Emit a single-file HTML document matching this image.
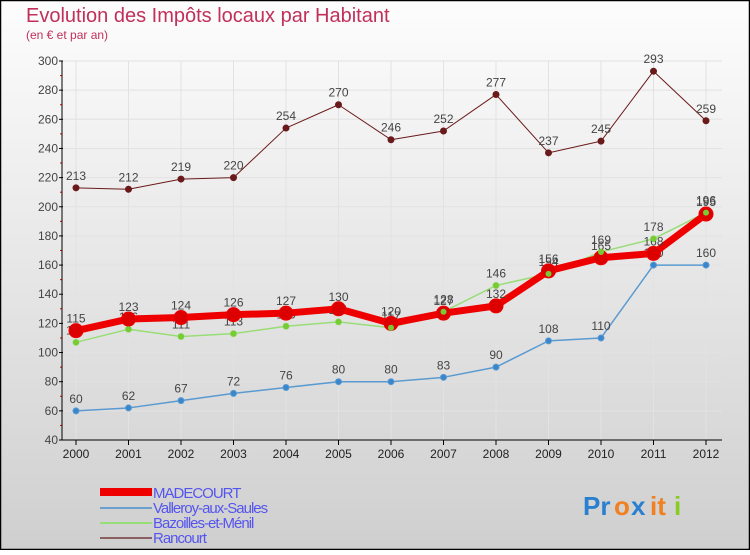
<!DOCTYPE html>
<html><head><meta charset="utf-8"><style>
body{margin:0;}
#c{width:750px;height:550px;position:relative;font-family:"Liberation Sans",sans-serif;}
</style></head><body>
<div id="c">
<svg width="750" height="550" xmlns="http://www.w3.org/2000/svg" id="svg">
<defs><linearGradient id="bg" x1="0" y1="0" x2="0" y2="1"><stop offset="0" stop-color="#fdfdfd"/><stop offset="1" stop-color="#cfcfcf"/></linearGradient></defs>
<rect x="0.5" y="0.5" width="749" height="549" fill="url(#bg)" stroke="#000" stroke-width="1.5"/>
<text x="26" y="22" font-size="20" fill="#c0305a">Evolution des Impôts locaux par Habitant</text>
<text x="26" y="39" font-size="12" fill="#c0305a">(en € et par an)</text>
<g id="grid"></g><g id="axes"></g><g id="series"></g>
<g font-size="15" fill="#5555ee">
<rect x="100" y="488" width="52" height="8" fill="#e00"/>
<text x="153" y="498" letter-spacing="-1">MADECOURT</text>
<line x1="100" y1="508" x2="152" y2="508" stroke="#6a9fd0" stroke-width="2"/>
<text x="153" y="513" letter-spacing="-1">Valleroy-aux-Saules</text>
<line x1="100" y1="523" x2="152" y2="523" stroke="#99dd77" stroke-width="2"/>
<text x="153" y="528" letter-spacing="-1">Bazoilles-et-Ménil</text>
<line x1="100" y1="538" x2="152" y2="538" stroke="#8a6060" stroke-width="2"/>
<text x="153" y="543" letter-spacing="-1">Rancourt</text>
</g>
<g font-size="26" font-weight="bold">
<text x="583" y="515" fill="#2a7fd0">Pr</text><text x="614" y="515" fill="#f08020">o</text><text x="631" y="515" fill="#2a7fd0">x</text><text x="650" y="515" fill="#f08020">it</text><text x="674" y="515" fill="#88cc22">i</text>
</g>
</svg></div>
<script>
const years=["2000","2001","2002","2003","2004","2005","2006","2007","2008","2009","2010","2011","2012"];
const madecourt=[115,123,124,126,127,130,120,127,132,156,165,168,195];
const valleroy=[60,62,67,72,76,80,80,83,90,108,110,160,160];
const bazoilles=[107,116,111,113,118,121,117,128,146,154,169,178,196];
const rancourt=[213,212,219,220,254,270,246,252,277,237,245,293,259];
const yTicks=[40,60,80,100,120,140,160,180,200,220,240,260,280,300];
const NS="http://www.w3.org/2000/svg";
const x=i=>76+i*52.5;
const y=v=>440-(v-40)*(379/260);
function mk(tag,attrs,parent){const e=document.createElementNS(NS,tag);for(const k in attrs)e.setAttribute(k,attrs[k]);parent.appendChild(e);return e;}
const grid=document.getElementById('grid'),axes=document.getElementById('axes'),ser=document.getElementById('series');
yTicks.forEach(t=>{
 const l=mk('line',{x1:62,x2:722,y1:y(t),y2:y(t),stroke:'#e2e2e2','stroke-width':1},grid);
 
 
 const tx=mk('text',{x:58,y:y(t)+4,'font-size':12,fill:'#444','text-anchor':'end'},axes);tx.textContent=t;
 
 
 mk('line',{x1:59,x2:63,y1:y(t),y2:y(t),stroke:'#000'},axes);
 if(t<300) mk('line',{x1:60,x2:62,y1:y(t+10),y2:y(t+10),stroke:'#e00'},axes);
});
years.forEach((yr,i)=>{
 mk('line',{x1:x(i),x2:x(i),y1:61,y2:440,stroke:'#e2e2e2'},grid);
 mk('line',{x1:x(i),x2:x(i),y1:440,y2:445,stroke:'#000'},axes);
 const tx=mk('text',{x:x(i),y:458,'font-size':12,fill:'#222','text-anchor':'middle'},axes);tx.textContent=yr;
 
 
});
mk('line',{x1:62,x2:62,y1:61,y2:440,stroke:'#000'},axes);
mk('line',{x1:62,x2:722,y1:440,y2:440,stroke:'#000'},axes);
function draw(name,vals,color,w,r,mcolor,labels){
 const g=mk('g',{},ser);
 
 
 mk('polyline',{points:vals.map((v,i)=>x(i)+','+y(v)).join(' '),fill:'none',stroke:color,'stroke-width':w,'stroke-linejoin':'round'},g);
 vals.forEach((v,i)=>{
  const c=mk('circle',{cx:x(i),cy:y(v),r:r,fill:mcolor,stroke:color,'stroke-width':1},g);
  
  
  if(labels){const t=mk('text',{x:x(i),y:y(v)-8,'font-size':12,fill:'#444','text-anchor':'middle'},g);t.textContent=v;}
 });
}
draw('rancourt',rancourt,'#6a1a1a',1,3,'#6a1a1a',true);
draw('valleroy',valleroy,'#5a9ad0',1.5,3,'#3a86cc',true);
draw('bazoilles',bazoilles,'#99dd77',1.5,3,'#77cc33',true);
draw('madecourt',madecourt,'#ee0000',7,7,'#dd0000',true);
// redraw bazoilles markers on top
bazoilles.forEach((v,i)=>{mk('circle',{cx:x(i),cy:y(v),r:3,fill:'#77cc33'},ser);});
</script>
</body></html>
